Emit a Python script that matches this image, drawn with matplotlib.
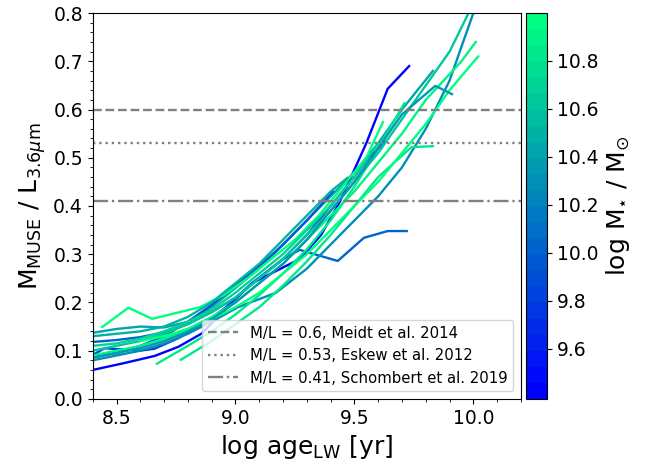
import matplotlib
matplotlib.use('Agg')
import matplotlib.pyplot as plt
from matplotlib.ticker import AutoMinorLocator
import numpy as np

# one entry per galaxy: light-weighted age grid, M/L profile and stellar mass
ages = [
    [8.4, 8.53, 8.66, 8.76, 8.86, 8.98, 9.07, 9.17, 9.27, 9.36, 9.44, 9.55, 9.64, 9.73],
    [8.4, 8.45, 8.6, 8.66, 8.76, 8.86, 8.96, 9.07, 9.2, 9.3, 9.4, 9.5, 9.56, 9.63],
    [8.4, 8.5, 8.6, 8.7, 8.8, 8.9, 9.0, 9.1, 9.2, 9.27, 9.43, 9.54, 9.64, 9.72],
    [8.4, 8.5, 8.6, 8.7, 8.8, 8.9, 9.01, 9.17, 9.3, 9.4, 9.5, 9.6, 9.7, 9.8, 9.9, 10.0],
    [8.4, 8.5, 8.6, 8.7, 8.8, 8.9, 9.0, 9.1, 9.2, 9.3, 9.4, 9.5, 9.6, 9.7, 9.83],
    [8.4, 8.5, 8.6, 8.7, 8.8, 8.9, 9.0, 9.1, 9.2, 9.3, 9.41],
    [8.44, 8.55, 8.65, 8.75, 8.85, 8.95, 9.05, 9.15, 9.25, 9.35, 9.45, 9.55, 9.62],
    [8.67, 8.8, 8.9, 9.0, 9.1, 9.2, 9.3, 9.4, 9.5, 9.6, 9.71],
    [8.77, 8.9, 9.0, 9.1, 9.2, 9.3, 9.4, 9.5, 9.6, 9.74, 9.83],
    [8.4, 8.5, 8.6, 8.7, 8.8, 8.9, 9.0, 9.1, 9.2, 9.3, 9.4, 9.5, 9.6, 9.7, 9.8, 9.9, 9.98],
    [8.4, 8.5, 8.6, 8.7, 8.8, 8.9, 9.0, 9.1, 9.2, 9.3, 9.4, 9.5, 9.6, 9.7, 9.8, 9.95, 10.01],
    [8.6, 8.7, 8.8, 8.9, 9.0, 9.1, 9.2, 9.3, 9.4, 9.5, 9.6, 9.7, 9.8, 9.9, 10.02],
    [8.4, 8.5, 8.6, 8.7, 8.8, 8.9, 9.0, 9.1, 9.2, 9.3, 9.4, 9.5, 9.6, 9.7, 9.84, 9.91],
    [8.4, 8.5, 8.6, 8.7, 8.8, 8.9, 9.0, 9.1, 9.2, 9.3, 9.4, 9.47],
    [8.4, 8.5, 8.6, 8.7, 8.8, 8.9, 9.0, 9.1, 9.2, 9.3, 9.4, 9.5, 9.6],
]
ml = [
    [0.060, 0.074, 0.089, 0.108, 0.136, 0.198, 0.24, 0.265, 0.29, 0.34, 0.41, 0.53, 0.643, 0.69],
    [0.091, 0.105, 0.100, 0.104, 0.126, 0.153, 0.19, 0.24, 0.29, 0.34, 0.40, 0.46, 0.50, 0.533],
    [0.118, 0.122, 0.128, 0.138, 0.155, 0.18, 0.21, 0.25, 0.29, 0.309, 0.286, 0.334, 0.348, 0.348],
    [0.08, 0.09, 0.10, 0.115, 0.135, 0.16, 0.19, 0.22, 0.27, 0.32, 0.37, 0.42, 0.48, 0.56, 0.66, 0.80],
    [0.137, 0.145, 0.15, 0.148, 0.16, 0.19, 0.23, 0.27, 0.32, 0.37, 0.42, 0.47, 0.53, 0.60, 0.68],
    [0.09, 0.095, 0.11, 0.13, 0.16, 0.195, 0.235, 0.275, 0.32, 0.37, 0.43],
    [0.149, 0.189, 0.166, 0.178, 0.19, 0.215, 0.25, 0.29, 0.33, 0.38, 0.44, 0.50, 0.574],
    [0.073, 0.11, 0.14, 0.175, 0.215, 0.26, 0.31, 0.37, 0.44, 0.52, 0.613],
    [0.081, 0.12, 0.155, 0.19, 0.235, 0.285, 0.34, 0.40, 0.46, 0.522, 0.524],
    [0.10, 0.11, 0.12, 0.135, 0.155, 0.18, 0.21, 0.25, 0.29, 0.34, 0.39, 0.45, 0.51, 0.58, 0.65, 0.72, 0.80],
    [0.09, 0.10, 0.11, 0.125, 0.145, 0.17, 0.20, 0.24, 0.28, 0.33, 0.38, 0.43, 0.49, 0.55, 0.62, 0.70, 0.74],
    [0.12, 0.13, 0.145, 0.165, 0.19, 0.22, 0.26, 0.30, 0.35, 0.40, 0.45, 0.51, 0.57, 0.64, 0.71],
    [0.085, 0.095, 0.105, 0.12, 0.14, 0.165, 0.20, 0.24, 0.28, 0.33, 0.39, 0.45, 0.52, 0.59, 0.649, 0.632],
    [0.13, 0.135, 0.14, 0.15, 0.17, 0.20, 0.24, 0.28, 0.33, 0.38, 0.43, 0.458],
    [0.11, 0.115, 0.125, 0.14, 0.16, 0.185, 0.22, 0.26, 0.30, 0.35, 0.40, 0.46, 0.53],
]
logmass = [9.42, 9.85, 10.05, 10.3, 10.45, 9.95, 10.95, 10.8, 10.85, 10.6,
           10.9, 10.95, 10.35, 10.5, 10.7]

ref_ml = [0.6, 0.53, 0.41]
ref_labels = ['M/L = 0.6, Meidt et al. 2014',
              'M/L = 0.53, Eskew et al. 2012',
              'M/L = 0.41, Schombert et al. 2019']
ref_styles = ['--', ':', '-.']

cmap = plt.get_cmap('winter', 24)
norm = matplotlib.colors.Normalize(vmin=9.39, vmax=11.0)

fig = plt.figure(figsize=(6.67, 4.66), dpi=100)
ax = fig.add_axes([0.139, 0.144, 0.642, 0.828])
cax = fig.add_axes([0.789, 0.144, 0.031, 0.828])

for a, m, lm in zip(ages, ml, logmass):
    ax.plot(a, m, color=cmap(norm(lm)), lw=1.7)

for v, lab, ls in zip(ref_ml, ref_labels, ref_styles):
    ax.axhline(v, color='grey', ls=ls, lw=1.7, label=lab)

ax.set_xlim(8.4, 10.2)
ax.set_ylim(0, 0.8)
ax.xaxis.set_minor_locator(AutoMinorLocator())
ax.yaxis.set_minor_locator(AutoMinorLocator())
ax.tick_params(labelsize=13.5)
ax.set_xlabel(r'log age$_{\rm LW}$ [yr]', fontsize=18)
ax.set_ylabel(r'M$_{\rm MUSE}$ / L$_{3.6\mu\rm m}$', fontsize=18)
ax.legend(loc='lower right', fontsize=10.7)

sm = matplotlib.cm.ScalarMappable(norm=norm, cmap=cmap)
cb = fig.colorbar(sm, cax=cax)
cb.set_ticks([9.6, 9.8, 10.0, 10.2, 10.4, 10.6, 10.8])
cb.ax.tick_params(labelsize=13.5)
cb.set_label(r'log M$_{\star}$ / M$_{\odot}$', fontsize=18)

fig.savefig('out.png', dpi=100)
